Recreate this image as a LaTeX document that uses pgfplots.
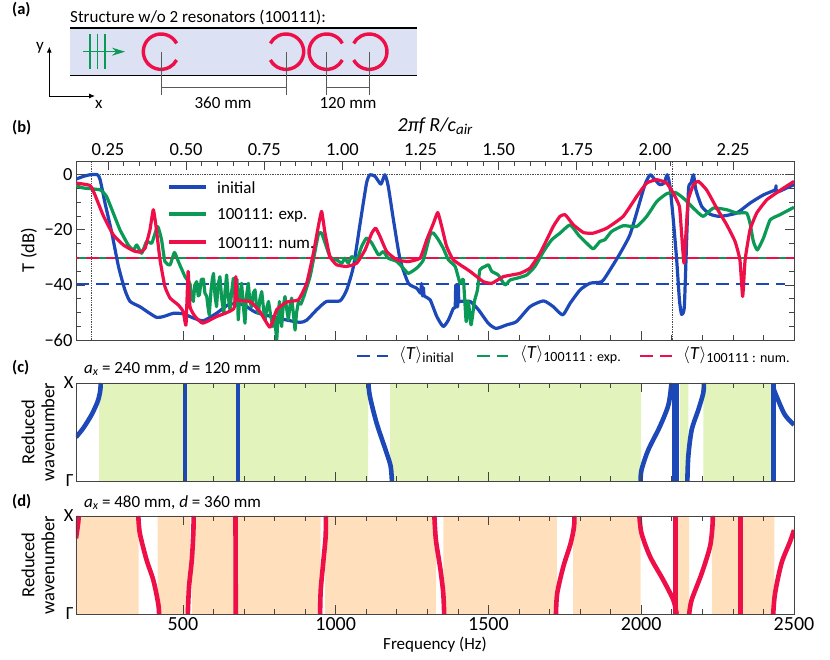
\documentclass[border=0pt]{standalone}
\usepackage{pgfplots}
\pgfplotsset{compat=1.18}
\usepackage{fontspec}
\setmainfont{Carlito}
\usetikzlibrary{arrows.meta}
\definecolor{cblue}{HTML}{1C48B8}
\definecolor{cgreen}{HTML}{0B9A55}
\definecolor{cred}{HTML}{EE0F48}
\definecolor{cframe}{HTML}{444444}
\definecolor{cwave}{HTML}{DCE1F3}
\definecolor{bandg}{HTML}{E3F3BC}
\definecolor{bando}{HTML}{FFDFBC}
\newcommand\fs{\fontsize{17}{18}\selectfont}
\newcommand\ft{\fontsize{18.5}{20}\selectfont}
\newcommand\fb{\fontsize{20}{22}\selectfont}
\newcommand\fl{\fontsize{16.5}{18}\selectfont}
\newcommand\sub[1]{\raisebox{-3pt}{\fontsize{14}{15}\selectfont #1}}
\tikzset{
  curve/.style={line width=3.2pt, line join=round, #1},
  disp/.style={line width=4.6pt, #1},
  mean/.style={line width=2.4pt, dash pattern=on 13pt off 7pt, #1},
}
\pgfplotsset{
  every axis/.append style={
    scale only axis, width=718pt,
    xmin=150, xmax=2500,
    axis line style={cframe, line width=0.9pt},
    tick style={cframe, line width=0.7pt},
    tick align=inside,
    major tick length=9pt, minor tick length=5pt,
    tick label style={font=\ft},
    label style={font=\fs},
    /pgf/number format/assume math mode=true,
  },
  band/.style={height=98pt, ymin=0, ymax=1, axis on top,
    xtick={500,1000,1500,2000,2500}, minor x tick num=4,
    ytick={0,1}, yticklabels={Γ,X}, ytick style={draw=none},
    yticklabel style={xshift=1pt},
    xticklabels={}, xtick pos=both},
  rect/.style={draw=none, fill=#1, forget plot},
}
\begin{document}
\begin{tikzpicture}[every node/.style={font=\fs}]
\path[use as bounding box] (0,0) rectangle (830pt,660pt);

% panel b, transmission
\begin{axis}[at={(76pt,320pt)}, anchor=south west, height=179pt,
    ymin=-60, ymax=5, ytick={0,-20,-40,-60}, yticklabels={0,−20,−40,−60}, minor y tick num=3,
    xtick={500,1000,1500,2000,2500}, minor x tick num=4, xticklabels={},
    xtick pos=bottom, ytick pos=both, yticklabel pos=left,
    clip=true]
\addplot[densely dotted, black!70, line width=0.7pt] coordinates {(150,0) (2500,0)};
\addplot[densely dotted, black!70, line width=0.7pt] coordinates {(201,-60) (201,5)};
\addplot[densely dotted, black!70, line width=0.7pt] coordinates {(2102,-60) (2102,5)};
\addplot[mean=cblue] coordinates {(150,-39.7) (2470,-39.7)};
\addplot[mean=cgreen] coordinates {(150,-30.3) (2500,-30.3)};
\addplot[mean=cred, dash phase=10pt] coordinates {(150,-30.3) (2500,-30.3)};
% initial
\addplot[curve=cblue, smooth, tension=0.35] coordinates {
(150,-1.6) (174,-0.6) (196,0) (220,0) (229,-1.8) (245,-10.3) (267,-21) (289,-33.3) (310,-41.8)
(327,-46) (359,-47.9) (387,-50) (414,-51.8) (436,-51.5) (469,-50.3) (501,-50.5) (534,-52) (567,-53)
(610,-50.3) (652,-47) (700,-47.3) (739,-50) (829,-52.5) (883,-53.6) (905,-52.8) (938,-49) (970,-46)
(1014,-45.8) (1036,-41.8) (1058,-33.3) (1080,-17.6) (1101,-3) (1112,0) (1129,-0.6) (1148,-3.4)
(1161,0) (1172,-4.2) (1189,-16.4) (1211,-30.9) (1238,-39.4) (1265,-41.2) (1278,-43) (1281,-39.5)
(1284,-44) (1287,-41) (1290,-44) (1309,-45.4) (1331,-51.5) (1352,-55.1) (1369,-52.7) (1385,-48.5)
(1391,-48) (1393,-40) (1395,-48) (1397,-40) (1399,-48) (1401,-40) (1403,-46) (1407,-46) (1440,-46)
(1467,-49) (1500,-54) (1525,-55.8) (1560,-54.5) (1592,-53.3) (1636,-47.9) (1680,-45.8) (1712,-47.9)
(1743,-50.9) (1767,-46.7) (1800,-41.8) (1832,-39.4) (1871,-38.8) (1898,-34.5) (1931,-28.5)
(1963,-21.8) (1991,-11.5) (2012,-3.6) (2029,0) (2045,-1.8) (2061,-3.6) (2075,-3) (2085,0) (2094,-4.2)
(2105,-16.4) (2116,-30.9) (2125,-45.4) (2132,-50.7) (2141,-47.9) (2149,-22.4) (2155,-4.8) (2163,-3)
(2171,0) (2179,-5.5) (2198,-11.5) (2225,-14.3) (2258,-15.1) (2312,-13.9) (2356,-10.3) (2400,-7.3)
(2438,-5.5) (2441,-4) (2444,-6.3) (2476,-4.8) (2500,-3.6)};
% 100111 exp
\addplot[curve=cgreen, smooth, tension=0.3] coordinates {
(150,-3.9) (174,-4.8) (229,-5.5) (250,-7.9) (272,-13.9) (294,-20) (321,-25.5) (338,-27.3) (349,-25.5)
(365,-28.5) (381,-24.2) (398,-24.8) (417,-18.8) (430,-23.6) (441,-31.5) (458,-32.7) (472,-28.2)
(485,-31.5) (507,-37) (523,-39.4)};
\addplot[curve=cgreen] coordinates {
(523,-39.4) (529,-45) (534,-46) (539,-40) (545,-38.8) (550,-44) (554,-43.6) (560,-38) (567,-37.9)
(572,-43) (578,-44.2) (582,-48) (586,-50.9) (592,-42) (596,-38) (600,-35.8) (605,-44) (610,-47.9)
(615,-40) (621,-37) (627,-45) (634,-50.3) (638,-42) (643,-36.4) (648,-44) (654,-49.1) (660,-42)
(665,-37.6) (672,-46) (677,-38) (681,-52.7) (686,-44) (692,-39.4) (698,-48) (703,-53.9) (708,-44)
(714,-39.4) (719,-46) (725,-47.9) (730,-43) (736,-41.8) (741,-48) (747,-50.3) (752,-45) (758,-42.4)
(764,-49) (769,-52.7) (775,-48) (780,-46) (787,-51) (794,-55.1) (800,-52) (807,-60) (812,-50) (816,-46)
(820,-52) (823,-55.1) (828,-48) (834,-44.2) (840,-49) (845,-52.7) (851,-47) (856,-44.8) (862,-51)
(867,-56.4) (872,-50) (878,-46) (886,-47) (894,-44.8)};
\addplot[curve=cgreen, smooth, tension=0.3] coordinates {
(894,-44.8) (916,-37) (927,-30.9) (943,-21.8) (954,-21.2) (981,-29.7) (1003,-30.9) (1020,-32.1)
(1030,-30.3) (1041,-32.1) (1052,-29.7) (1069,-30.9) (1085,-26) (1101,-23) (1118,-24.8) (1140,-29.1)
(1156,-27.9) (1172,-30.3) (1200,-31.5) (1221,-33.9) (1238,-35.8) (1265,-33.9) (1287,-30.9) (1309,-21.8)
(1320,-21.2) (1336,-23.6) (1352,-26.7) (1369,-30.9) (1391,-33.3) (1407,-39.4) (1418,-38.2) (1427,-53.3)
(1434,-46) (1443,-54.5) (1454,-46) (1464,-41.8) (1472,-34.5) (1489,-33.3) (1500,-32.7) (1511,-35.1)
(1532,-36.4) (1554,-40) (1571,-38.2) (1592,-37.6) (1625,-36.4) (1652,-33.3) (1680,-27.9) (1707,-23.6)
(1734,-21.2) (1767,-18.2) (1794,-21.8) (1821,-24.8) (1843,-26.9) (1865,-24.2) (1881,-23.6) (1903,-20.6)
(1941,-18.5) (1985,-18.8) (2018,-15.1) (2051,-9.7) (2083,-6.9) (2111,-6.4) (2138,-8.5) (2176,-12.7)
(2203,-15.1) (2236,-12.1) (2280,-12.7) (2312,-13.9) (2345,-13.9) (2356,-17.6) (2367,-24.2) (2380,-27.3)
(2400,-23) (2422,-16.4) (2454,-14.5) (2500,-11.8)};
% 100111 num
\addplot[curve=cred, smooth, tension=0.25] coordinates {
(150,-3) (196,-3.9) (212,-7.3) (240,-15) (272,-21.8) (305,-25.5) (338,-27.6) (360,-28.1) (376,-26.7)
(392,-20) (403,-12.7) (412,-18.8) (425,-30.9) (441,-40.6) (458,-44.8) (485,-47.3) (501,-49.7) (510,-54.5)
(517,-35.1) (523,-47.9) (540,-51.5) (565,-53.9) (610,-51.5) (667,-48.5) (673,-37) (678,-45.4) (720,-46)
(752,-49.7) (785,-55.4) (807,-49) (840,-46.2) (878,-45.4) (905,-39.4) (927,-28.5) (943,-18.8) (954,-13.3)
(965,-21.2) (981,-29.7) (1003,-32.7) (1036,-33.3) (1069,-32.1) (1096,-27.3) (1118,-21.2) (1131,-19.4)
(1145,-22.4) (1167,-27.9) (1200,-30.9) (1238,-31.5) (1276,-30.3) (1298,-23.6) (1320,-17.6) (1334,-13.7)
(1347,-18.8) (1363,-26) (1385,-30.9) (1440,-35.1) (1483,-38.8) (1511,-39.4) (1549,-37) (1603,-35.8)
(1636,-33.9) (1669,-28.5) (1712,-18.8) (1734,-15.1) (1751,-14.5) (1778,-18.2) (1811,-21) (1843,-21.2)
(1887,-19.4) (1941,-15.1) (1985,-7.9) (2018,-3) (2051,-1.8) (2083,-3) (2105,-6.7) (2125,-11.5) (2132,-21.2)
(2140,-32.1) (2147,-20) (2154,-9.1) (2171,-3.6) (2187,-2.4) (2214,-5.5) (2247,-12.1) (2280,-18.2)
(2307,-24.2) (2323,-30.9) (2332,-44.2) (2340,-30.9) (2356,-20) (2378,-13.9) (2411,-9.1) (2454,-5.7) (2500,-2.4)};
\end{axis}

% top axis of panel b
\begin{axis}[at={(76pt,320pt)}, anchor=south west, height=179pt,
    xmin=0.1477, xmax=2.4448, ymin=-60, ymax=5,
    axis x line*=top, axis y line=none,
    xtick={0.25,0.50,...,2.25}, minor x tick num=4,
    xticklabels={0.25,0.50,0.75,1.00,1.25,1.50,1.75,2.00,2.25},
    xticklabel style={font=\ft, yshift=2pt},
    xlabel={\itshape 2πf R/c\raisebox{-3pt}{\fontsize{15}{15}\selectfont air}},
    xlabel style={font=\fb, yshift=2pt}]
\addplot[draw=none] coordinates {(1,0)};
\end{axis}

% panel c
\begin{axis}[at={(76pt,179pt)}, anchor=south west, band]
\addplot[rect=bandg] coordinates {(226,0) (1106,0) (1106,1) (226,1)} \closedcycle;
\addplot[rect=bandg] coordinates {(1178,0) (2000,0) (2000,1) (1178,1)} \closedcycle;
\addplot[rect=bandg] coordinates {(2127,0) (2154,0) (2154,1) (2127,1)} \closedcycle;
\addplot[rect=bandg] coordinates {(2203,0) (2429,0) (2429,1) (2203,1)} \closedcycle;
\addplot[disp=cblue, smooth] coordinates {(150,.447) (174,.54) (201,.676) (221,.812) (229,.915) (231,1)};
\addplot[disp=cblue] coordinates {(507,0) (507,1)};
\addplot[disp=cblue] coordinates {(680,0) (680,1)};
\addplot[disp=cblue, smooth] coordinates {(1107,1) (1112,.863) (1134,.59) (1167,.283) (1180,.147) (1184,0)};
\addplot[disp=cblue, smooth] coordinates {(1998,0) (2001,.113) (2023,.317) (2061,.556) (2089,.778) (2099,1)};
\addplot[disp=cblue] coordinates {(2107,0) (2107,1)};
\addplot[disp=cblue] coordinates {(2117,0) (2117,1)};
\addplot[disp=cblue, smooth] coordinates {(2151,0) (2154,.25) (2165,.52) (2187,.727) (2203,.898) (2205,1)};
\addplot[disp=cblue] coordinates {(2432,0) (2432,1)};
\addplot[disp=cblue, smooth] coordinates {(2432,.95) (2443,.863) (2470,.676) (2500,.573)};
\end{axis}

% panel d
\begin{axis}[at={(76pt,46pt)}, anchor=south west, band,
    xticklabels={500,1000,1500,2000,2500}, xtick pos=both, xticklabel pos=bottom,
    xticklabel style={font=\fb},
    xlabel={Frequency (Hz)}]
\addplot[rect=bando] coordinates {(150,0) (355,0) (355,1) (150,1)} \closedcycle;
\addplot[rect=bando] coordinates {(417,0) (523,0) (523,1) (417,1)} \closedcycle;
\addplot[rect=bando] coordinates {(529,0) (951,0) (951,1) (529,1)} \closedcycle;
\addplot[rect=bando] coordinates {(965,0) (1329,0) (1329,1) (965,1)} \closedcycle;
\addplot[rect=bando] coordinates {(1352,0) (1724,0) (1724,1) (1352,1)} \closedcycle;
\addplot[rect=bando] coordinates {(1777,0) (1998,0) (1998,1) (1777,1)} \closedcycle;
\addplot[rect=bando] coordinates {(2114,0) (2157,0) (2157,1) (2114,1)} \closedcycle;
\addplot[rect=bando] coordinates {(2231,0) (2436,0) (2436,1) (2231,1)} \closedcycle;
\addplot[disp=cred, smooth] coordinates {(150,.772) (157,.925) (159,1)};
\addplot[disp=cred, smooth] coordinates {(354,1) (359,.823) (381,.551) (403,.347) (419,.109) (422,0)};
\addplot[disp=cred, smooth] coordinates {(516,0) (520,.279) (529,.551) (534,.823) (535,1)};
\addplot[disp=cred] coordinates {(673,0) (672,1)};
\addplot[disp=cred, smooth] coordinates {(949,0) (951,.245) (960,.551) (967,.789) (968,1)};
\addplot[disp=cred, smooth] coordinates {(1323,1) (1328,.755) (1343,.449) (1352,.211) (1355,0)};
\addplot[disp=cred, smooth] coordinates {(1721,0) (1725,.211) (1745,.483) (1769,.721) (1780,.891) (1781,1)};
\addplot[disp=cred, smooth] coordinates {(1994,1) (2001,.823) (2029,.585) (2072,.347) (2105,.143) (2116,0)};
\addplot[disp=cred] coordinates {(2113,0) (2113,1)};
\addplot[disp=cred, smooth] coordinates {(2157,0) (2165,.143) (2198,.415) (2225,.687) (2233,.891) (2234,1)};
\addplot[disp=cred] coordinates {(2325,0) (2325,1)};
\addplot[disp=cred, smooth] coordinates {(2432,0) (2438,.211) (2459,.517) (2487,.738) (2500,.857)};
\end{axis}

% schematic and hand placed text, in pixels from the top left
\begin{scope}[x=1pt, y=-1pt, yshift=660pt]
\fill[cwave] (70,28) rectangle (417,75.7);
\draw[black, line width=1.4pt] (70,28) -- (417,28) (70,75.7) -- (417,75.7);
\draw[cgreen, line width=1.2pt] (90,34) -- (90,69) (97.7,34) -- (97.7,69) (105,34) -- (105,69);
\draw[cgreen, line width=1.2pt, -{Stealth[length=13pt,width=8pt]}] (83,51.7) -- (125,51.7);
\foreach \c/\o in {161/0, 286/180, 326.7/0, 369.3/180}{
  \draw[cred, line width=3.4pt] ({\c+17.7*cos(\o+28)},{51.7-17.7*sin(\o+28)}) arc[start angle=\o+28, delta angle=304, radius=17.7pt];
  \draw[black!65, line width=0.8pt] (\c,51.7) -- (\c,95);
}
\draw[black!65, line width=0.8pt] (161,87.3) -- (286,87.3) (326.7,87.3) -- (369.3,87.3);
\draw[black, line width=0.9pt, -{Latex[length=6pt,width=5pt]}] (49.3,96) -- (49.3,46.7);
\draw[black, line width=0.9pt, -{Latex[length=6pt,width=5pt]}] (49.3,96) -- (95,96);
\node at (40,48) {y};
\node at (98.7,104) {x};
\node at (223,103) {360 mm};
\node at (348,103) {120 mm};
\node[anchor=west, inner sep=0] at (70,17) {Structure w/o 2 resonators (100111):};
\node[anchor=west, inner sep=0, font=\fl] at (12,10) {\bfseries (a)};
\node[anchor=west, inner sep=0, font=\fl] at (12,128) {\bfseries (b)};
\node[anchor=west, inner sep=0, font=\fl] at (12,368) {\bfseries (c)};
\node[anchor=west, inner sep=0, font=\fl] at (12,502) {\bfseries (d)};
\node[anchor=west, inner sep=0] at (84,369) {\textit{a}\raisebox{-2pt}{\fontsize{12}{12}\selectfont\textit{x}} = 240 mm, \textit{d} = 120 mm};
\node[anchor=west, inner sep=0] at (84,503) {\textit{a}\raisebox{-2pt}{\fontsize{12}{12}\selectfont\textit{x}} = 480 mm, \textit{d} = 360 mm};
\node[rotate=90, align=center, inner sep=0, font=\ft] at (38,432) {Reduced\\wavenumber};
\node[rotate=90, align=center, inner sep=0, font=\ft] at (38,565) {Reduced\\wavenumber};
\node[rotate=90, font=\ft] at (29,250) {T (dB)};
% legend
\draw[cblue, line width=3.2pt] (169,187) -- (206,187);
\draw[cgreen, line width=3.2pt] (169,214) -- (206,214);
\draw[cred, line width=3.2pt] (169,242) -- (206,242);
\node[anchor=west, inner sep=0] at (217,188) {initial};
\node[anchor=west, inner sep=0] at (217,215) {100111: exp.};
\node[anchor=west, inner sep=0] at (217,243) {100111: num.};
\draw[mean=cblue] (357,356) -- (388,356);
\draw[mean=cgreen] (477,356) -- (508,356);
\draw[mean=cred] (640,356) -- (672,356);
\node[anchor=west, inner sep=0, font=\ft] at (399,355) {$\langle$\textit{T}$\rangle$\sub{initial}};
\node[anchor=west, inner sep=0, font=\ft] at (520,355) {$\langle$\textit{T}$\rangle$\sub{100111 : exp.}};
\node[anchor=west, inner sep=0, font=\ft] at (683,355) {$\langle$\textit{T}$\rangle$\sub{100111 : num.}};
\end{scope}
\end{tikzpicture}
\end{document}
